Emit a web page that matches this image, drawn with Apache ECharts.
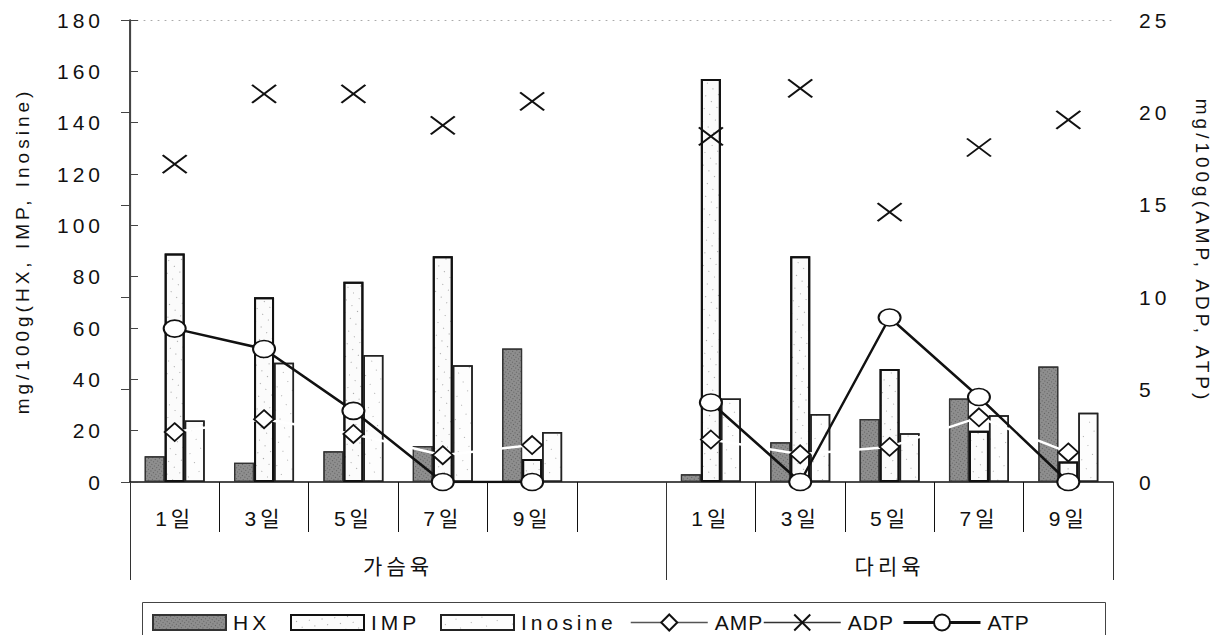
<!DOCTYPE html>
<html>
<head>
<meta charset="utf-8">
<script src="https://cdn.jsdelivr.net/npm/echarts@6/dist/echarts.min.js"></script>
<style>
  html, body { margin: 0; padding: 0; background: #fff; }
  #chart { width: 1225px; height: 635px; }
  #chart text { letter-spacing: 4px; }
</style>
</head>
<body>
<div id="chart"></div>
<script>
// Days of storage, grouped by cut (breast / leg); one empty slot separates the groups
const categories = ['1일', '3일', '5일', '7일', '9일', '', '1일', '3일', '5일', '7일', '9일'];
const groups = ['가슴육', '다리육'];
const groupSizes = [6, 5];

// mg/100g, left axis
const hx      = [10, 7.5, 12, 14, 52, null, 3, 15.5, 24.5, 32.5, 45];
const imp     = [89, 72, 78, 88, 9, null, 157, 88, 44, 20, 8];
const inosine = [24, 46.5, 49.5, 45.5, 19.5, null, 32.5, 26.5, 19, 26, 27];

// mg/100g, right axis
const amp = [2.7, 3.4, 2.6, 1.45, 2.0, null, 2.3, 1.5, 1.9, 3.5, 1.6];
const adp = [17.2, 21.0, 21.0, 19.3, 20.6, null, 18.7, 21.3, 14.6, 18.1, 19.6];
const atp = [8.3, 7.2, 3.85, 0, 0, null, 4.3, 0, 8.9, 4.6, 0];

const leftTicks = { min: 0, max: 180, interval: 20 };
const rightTicks = { min: 0, max: 25, interval: 5 };

// group boundaries and label centres on a 0..N ruler under the category axis
const groupBounds = [0];
groupSizes.forEach(n => groupBounds.push(groupBounds[groupBounds.length - 1] + n));
const groupCenters = groupSizes.map((n, i) => groupBounds[i] + n / 2);

const FONT = "'Liberation Sans', Arial, 'Noto Sans CJK KR', sans-serif";
const INK = '#111';
const FS = 21;

const ELLIPSE = 'path://M0,50A50,50,0,1,1,100,50A50,50,0,1,1,0,50Z';
const CROSS = 'path://M0,0L10,10M0,10L10,0';

const chart = echarts.init(document.getElementById('chart'), null, { renderer: 'svg' });

function legendAt(name, left, extra) {
  return Object.assign({
    data: [name],
    left: left,
    top: 607,
    icon: 'rect',
    itemWidth: 73,
    itemHeight: 15,
    selectedMode: false,
    textStyle: { fontSize: FS, color: INK, fontFamily: FONT, padding: [0, 0, 0, 2] }
  }, extra || {});
}

chart.setOption({
  animation: false,
  backgroundColor: '#fff',
  textStyle: { fontFamily: FONT },
  grid: { left: 130, right: 112, top: 20, bottom: 153 },
  graphic: [{
    type: 'rect',
    left: 140, top: 600,
    shape: { width: 963, height: 50 },
    style: { fill: 'none', stroke: '#444', lineWidth: 1 },
    silent: true
  }],
  legend: [
    legendAt('HX', 147),
    legendAt('IMP', 285),
    legendAt('Inosine', 435),
    legendAt('AMP', 625, { icon: null, itemWidth: 77, itemHeight: 20, lineStyle: { color: '#555', width: 1.5, opacity: 1 } }),
    legendAt('ADP', 758, { icon: null, itemWidth: 77, itemHeight: 20, lineStyle: { color: '#333', width: 1.5, opacity: 1 } }),
    legendAt('ATP', 897, { icon: null, itemWidth: 77, itemHeight: 20, lineStyle: { color: '#111', width: 3, opacity: 1 } })
  ],
  xAxis: [
    {
      type: 'category',
      data: categories,
      position: 'bottom',
      axisLine: { show: true, lineStyle: { color: INK, width: 1.5 } },
      axisTick: { show: true, interval: 0, length: 50, lineStyle: { color: INK, width: 1 } },
      axisLabel: { interval: 0, fontSize: FS, color: INK, margin: 26 },
      splitLine: { show: false }
    },
    {
      type: 'value',
      position: 'bottom',
      min: groupBounds[0],
      max: groupBounds[groupBounds.length - 1],
      axisLine: { show: false },
      axisTick: { show: true, customValues: groupBounds, length: 98, lineStyle: { color: '#333', width: 1 } },
      axisLabel: {
        show: true, customValues: groupCenters, fontSize: FS, color: INK, margin: 74,
        formatter: v => groups[groupCenters.indexOf(v)] || ''
      },
      splitLine: { show: false }
    },
    {
      type: 'value',
      position: 'top',
      min: 0, max: 1,
      axisLine: { show: true, lineStyle: { color: '#aaa', width: 1, type: [1, 6] } },
      axisTick: { show: false },
      axisLabel: { show: false },
      splitLine: { show: false }
    }
  ],
  yAxis: [
    {
      type: 'value',
      position: 'left',
      min: leftTicks.min, max: leftTicks.max, interval: leftTicks.interval,
      name: 'mg/100g(HX, IMP, Inosine)',
      nameLocation: 'middle',
      nameRotate: 90,
      nameGap: 98,
      nameTextStyle: { fontSize: 19, color: INK },
      axisLine: { show: true, lineStyle: { color: INK, width: 1.5 } },
      axisTick: { show: true, inside: true, length: 8, lineStyle: { color: '#444' } },
      axisLabel: { fontSize: FS, color: INK, margin: 26 },
      splitLine: { show: false }
    },
    {
      type: 'value',
      position: 'right',
      min: rightTicks.min, max: rightTicks.max, interval: rightTicks.interval,
      name: 'mg/100g(AMP, ADP, ATP)',
      nameLocation: 'middle',
      nameRotate: -90,
      nameGap: 80,
      nameTextStyle: { fontSize: 19, color: INK },
      axisLine: { show: true, lineStyle: { color: '#444', width: 1.2 } },
      axisTick: { show: true, inside: true, length: 9, lineStyle: { color: '#444' } },
      axisLabel: { fontSize: FS, color: INK, margin: 26 },
      splitLine: { show: false }
    }
  ],
  series: [
    {
      name: 'HX', type: 'bar', data: hx, barWidth: 20, barGap: '0%',
      itemStyle: {
        color: '#8e8e8e', borderColor: '#333', borderWidth: 1.2,
        decal: { symbol: 'rect', symbolSize: 1, color: 'rgba(40,40,40,0.45)', dashArrayX: [1, 2], dashArrayY: [1, 2], rotation: 0.6 }
      }
    },
    {
      name: 'IMP', type: 'bar', data: imp, barWidth: 20, barGap: '0%',
      itemStyle: {
        color: '#fbfbfb', borderColor: '#111', borderWidth: 2,
        decal: { symbol: 'rect', symbolSize: 1, color: 'rgba(0,0,0,0.35)', dashArrayX: [1, 7], dashArrayY: [1, 9], rotation: 0.8 }
      }
    },
    {
      name: 'Inosine', type: 'bar', data: inosine, barWidth: 20, barGap: '0%',
      itemStyle: {
        color: '#fdfdfd', borderColor: '#222', borderWidth: 1.5,
        decal: { symbol: 'rect', symbolSize: 1, color: 'rgba(0,0,0,0.3)', dashArrayX: [1, 9], dashArrayY: [1, 11], rotation: 1.1 }
      }
    },
    {
      name: 'AMP', type: 'line', yAxisIndex: 1, data: amp,
      symbol: 'diamond', symbolSize: [20, 18],
      lineStyle: { color: '#ffffff', width: 2.5 },
      itemStyle: { color: '#fff', borderColor: '#111', borderWidth: 1.8 }
    },
    {
      name: 'ADP', type: 'line', yAxisIndex: 1, data: adp,
      symbol: CROSS, symbolSize: [24, 18],
      lineStyle: { opacity: 0, width: 0 },
      itemStyle: { color: '#111', borderColor: '#111', borderWidth: 2 }
    },
    {
      name: 'ATP', type: 'line', yAxisIndex: 1, data: atp,
      symbol: ELLIPSE, symbolSize: [22, 17],
      lineStyle: { color: '#111', width: 2.5 },
      itemStyle: { color: '#fff', borderColor: '#111', borderWidth: 1.8 }
    }
  ]
});

// the short legend captions for the line series sit close to the next key
const tightCaptions = ['AMP', 'ADP', 'ATP'];
function tightenCaptions() {
  document.querySelectorAll('#chart text').forEach(t => {
    if (tightCaptions.includes(t.textContent.trim())) t.style.letterSpacing = '1px';
  });
}
tightenCaptions();
chart.on('finished', tightenCaptions);
</script>
</body>
</html>
